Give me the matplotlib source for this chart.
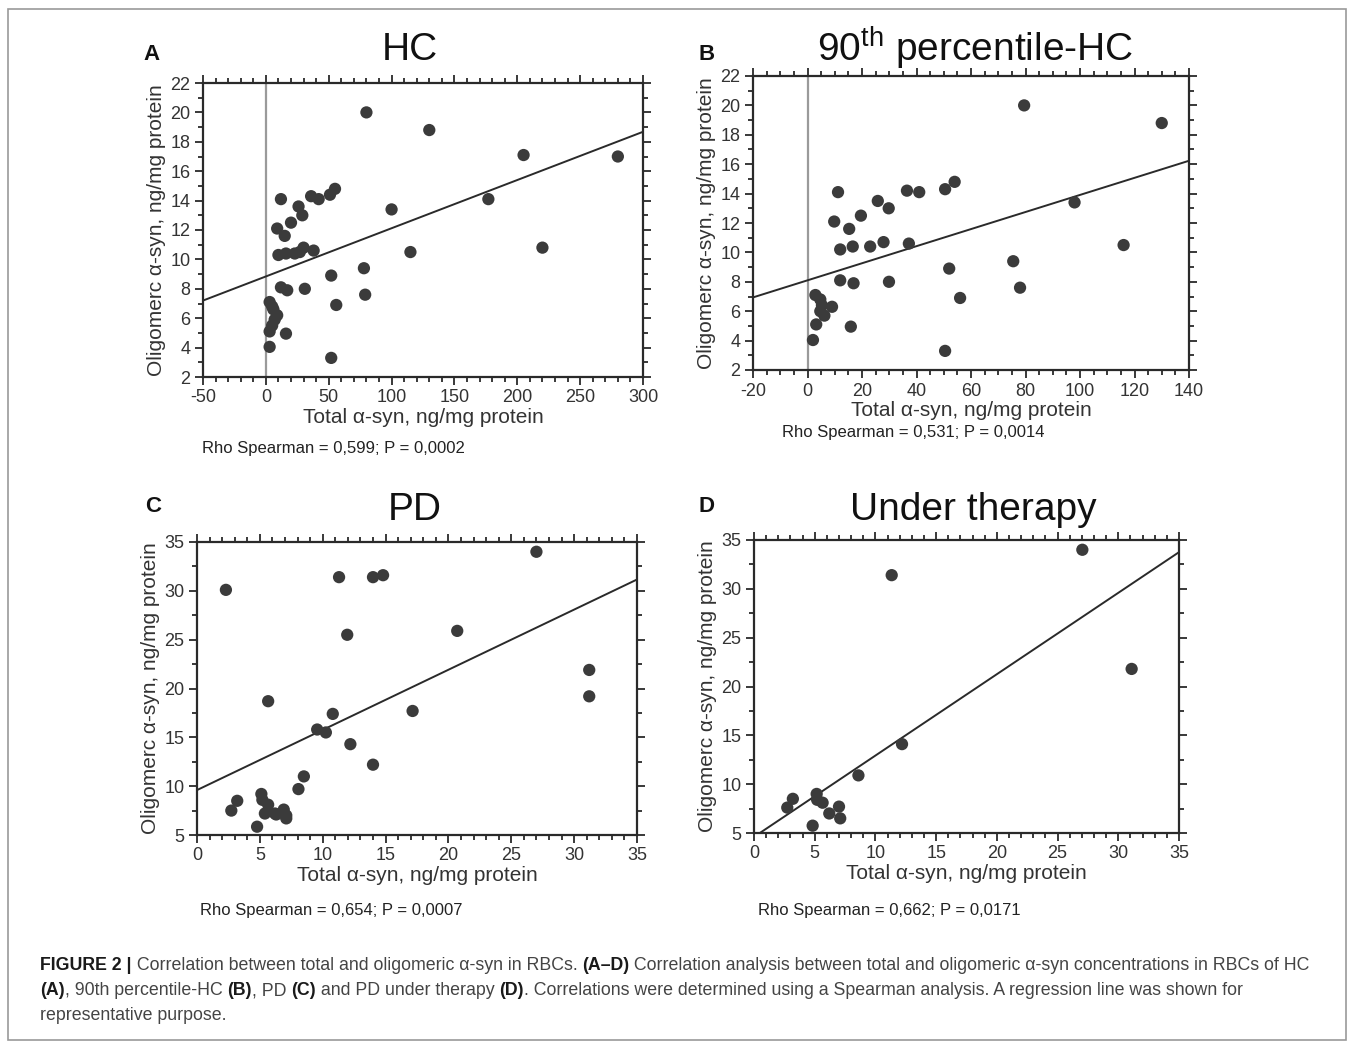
import numpy as np
import matplotlib
matplotlib.use("Agg")
import matplotlib.pyplot as plt
from matplotlib.ticker import MultipleLocator
from matplotlib.patches import Rectangle

plt.rcParams['font.family'] = ['Liberation Sans', 'DejaVu Sans']
plt.rcParams['axes.unicode_minus'] = False

W, H = 1354, 1043

# Panel A: HC
hc_x = [80, 130, 205, 280, 177, 100, 220, 115, 78, 79, 52, 56, 52, 55, 51, 36, 42,
        12, 26, 29, 20, 9, 15, 10, 16, 23, 27, 30, 38, 12, 17, 31, 16, 3,
        3, 5, 6, 9, 7, 5, 3]
hc_y = [20.0, 18.8, 17.1, 17.0, 14.1, 13.4, 10.8, 10.5, 9.4, 7.6, 8.9, 6.9, 3.3, 14.8, 14.4, 14.3, 14.1,
        14.1, 13.6, 13.0, 12.5, 12.1, 11.6, 10.3, 10.4, 10.4, 10.5, 10.8, 10.6, 8.1, 7.9, 8.0, 4.95, 4.05,
        7.1, 6.8, 6.6, 6.2, 5.9, 5.5, 5.1]
hc_line = (8.84, 0.0328)  # intercept, slope

# Panel B: 90th percentile-HC
p90_x = [79.5, 130, 98, 116, 75.5, 78, 52, 56, 50.5, 54, 50.5, 36.5, 41, 11.2, 25.8, 29.8,
         19.6, 9.8, 15.3, 27.9, 37.2, 23, 16.6, 12, 12, 16.9, 29.9, 15.9, 2, 9,
         2.9, 4.7, 5.3, 4.7, 6.2, 3.2]
p90_y = [20.0, 18.8, 13.4, 10.5, 9.4, 7.6, 8.9, 6.9, 3.3, 14.8, 14.3, 14.2, 14.1, 14.1, 13.5, 13.0,
         12.5, 12.1, 11.6, 10.7, 10.6, 10.4, 10.4, 10.2, 8.1, 7.9, 8.0, 4.95, 4.04, 6.3,
         7.1, 6.8, 6.4, 6.0, 5.7, 5.1]
p90_line = (8.10, 0.0581)

# Panel C: PD
pd_x = [2.3, 11.3, 14.0, 14.8, 27.0, 11.95, 20.7, 31.2, 31.2, 5.66, 10.8, 17.15, 9.56, 10.25,
        12.2, 14.0, 8.5, 8.07, 2.73, 3.2, 5.12, 5.2, 5.66, 5.4, 6.2, 6.9, 7.1, 7.1, 4.78, 6.3]
pd_y = [30.1, 31.4, 31.4, 31.6, 34.0, 25.5, 25.9, 21.9, 19.2, 18.7, 17.4, 17.7, 15.8, 15.5,
        14.3, 12.2, 11.0, 9.7, 7.5, 8.5, 9.2, 8.6, 8.1, 7.2, 7.2, 7.6, 7.0, 6.7, 5.85, 7.1]
pd_line = (9.6, 0.616)

# Panel D: under therapy
th_x = [27.04, 11.34, 31.1, 12.19, 8.6, 2.74, 3.2, 5.16, 5.2, 5.65, 6.2, 7.0, 7.1, 4.83]
th_y = [34.0, 31.4, 21.8, 14.1, 10.9, 7.6, 8.5, 9.0, 8.4, 8.1, 7.0, 7.7, 6.5, 5.75]
th_line = (4.6, 0.833)

titles = ["HC", "90$^{\\mathregular{th}}$ percentile-HC", "PD", "Under therapy"]
letters = ["A", "B", "C", "D"]
stats = ["Rho Spearman = 0,599; P = 0,0002", "Rho Spearman = 0,531; P = 0,0014",
         "Rho Spearman = 0,654; P = 0,0007", "Rho Spearman = 0,662; P = 0,0171"]

fig = plt.figure(figsize=(W / 100, H / 100), dpi=100)
fig.patches.append(Rectangle((8 / W, 1 - 1040 / H), 1338 / W, 1031 / H, transform=fig.transFigure,
                             fill=False, edgecolor="#9a9a9a", linewidth=1.2))


def px_axes(x0, y0, x1, y1):
    return fig.add_axes([x0 / W, 1 - y1 / H, (x1 - x0) / W, (y1 - y0) / H])


def ftext(x, y, s, **kw):
    return fig.text(x / W, 1 - y / H, s, **kw)


dot = "#3b3b3b"
ink = "#2a2a2a"

panels = [
    dict(box=(203, 83, 643, 377), x=hc_x, y=hc_y, line=hc_line, xlim=(-50, 300), ylim=(2, 22),
         xmaj=50, xmin=10, ymaj=2, ymin=1, zero=True),
    dict(box=(753, 76, 1189, 370), x=p90_x, y=p90_y, line=p90_line, xlim=(-20, 140), ylim=(2, 22),
         xmaj=20, xmin=5, ymaj=2, ymin=1, zero=True),
    dict(box=(197, 542, 637, 835), x=pd_x, y=pd_y, line=pd_line, xlim=(0, 35), ylim=(5, 35),
         xmaj=5, xmin=1, ymaj=5, ymin=2.5, zero=False),
    dict(box=(754, 540, 1179, 833), x=th_x, y=th_y, line=th_line, xlim=(0, 35), ylim=(5, 35),
         xmaj=5, xmin=1, ymaj=5, ymin=2.5, zero=False),
]

for p in panels:
    ax = px_axes(*p["box"])
    ax.set_xlim(*p["xlim"])
    ax.set_ylim(*p["ylim"])
    if p["zero"]:
        ax.axvline(0, color="#9a9a9a", lw=1.6, zorder=1)
    xx = np.array(p["xlim"], dtype=float)
    b0, b1 = p["line"]
    ax.plot(xx, b0 + b1 * xx, color=ink, lw=1.4, zorder=2)
    ax.scatter(p["x"], p["y"], s=78, color=dot, edgecolors="none", zorder=3)
    ax.xaxis.set_major_locator(MultipleLocator(p["xmaj"]))
    ax.xaxis.set_minor_locator(MultipleLocator(p["xmin"]))
    ax.yaxis.set_major_locator(MultipleLocator(p["ymaj"]))
    ax.yaxis.set_minor_locator(MultipleLocator(p["ymin"]))
    ax.tick_params(which="both", direction="out", top=True, right=True, colors=ink,
                   labelsize=13, width=1.3)
    ax.tick_params(which="major", length=6, pad=3)
    ax.tick_params(which="minor", length=3.5)
    ax.tick_params(labelcolor="#333333")
    for s in ax.spines.values():
        s.set_color(ink)
        s.set_linewidth(1.6)
    ax.set_xlabel("Total α-syn, ng/mg protein", fontsize=15, color="#333333", labelpad=1)
    ax.set_ylabel("Oligomerc α-syn, ng/mg protein", fontsize=15, color="#333333", labelpad=3)

# titles, letters and statistics
for (lx, ly), s in zip([(152, 55), (707, 55), (153, 507), (706, 507)], letters):
    ftext(lx, ly, s, fontsize=16, weight="bold", color="#111111", ha="center", va="center")
for (tx, ty), s in zip([(410, 50), (975, 48), (415, 510), (973, 510)], titles):
    ftext(tx, ty, s, fontsize=28, color="#111111", ha="center", va="center")
for (sx, sy), s in zip([(202, 448), (782, 433), (200, 911), (758, 911)], stats):
    ftext(sx, sy, s, fontsize=12, color="#222222", ha="left", va="center")

# caption, font size fitted so the first line spans the same width as in the figure
cap_family = ["Liberation Sans Narrow", "Liberation Sans", "DejaVu Sans"]
cap_lines = [
    [("FIGURE 2 |", True), (" Correlation between total and oligomeric α-syn in RBCs. ", False),
     ("(A–D)", True), (" Correlation analysis between total and oligomeric α-syn concentrations in RBCs of HC", False)],
    [("(A)", True), (", 90th percentile-HC ", False), ("(B)", True), (", PD ", False), ("(C)", True),
     (" and PD under therapy ", False), ("(D)", True),
     (". Correlations were determined using a Spearman analysis. A regression line was shown for", False)],
    [("representative purpose.", False)],
]
renderer = fig.canvas.get_renderer()


def draw_caption(size):
    arts, widths = [], []
    for y, parts in zip([970, 995, 1020], cap_lines):
        x = 40
        for txt, bold in parts:
            t = ftext(x, y, txt, fontsize=size, family=cap_family, weight="bold" if bold else "normal",
                      color="#1a1a1a" if bold else "#444444", ha="left", va="baseline")
            x += t.get_window_extent(renderer).width
            arts.append(t)
        widths.append(x - 40)
    return arts, widths


arts, widths = draw_caption(12)
for a in arts:
    a.remove()
draw_caption(12 * 1277 / widths[0])

fig.savefig("out.png", dpi=100)
